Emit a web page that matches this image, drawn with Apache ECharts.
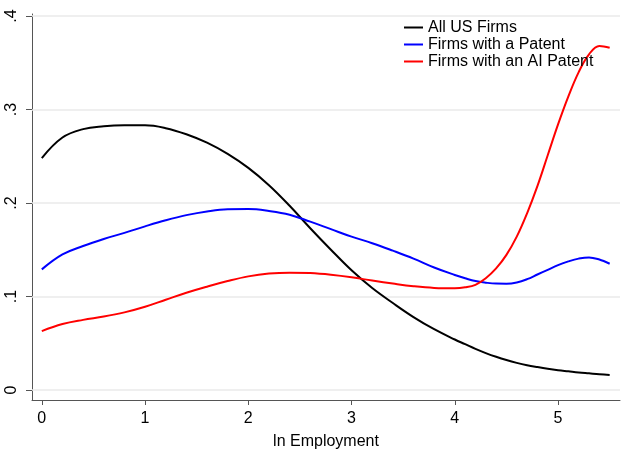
<!DOCTYPE html>
<html>
<head>
<meta charset="utf-8">
<script src="https://cdn.jsdelivr.net/npm/echarts@6/dist/echarts.min.js"></script>
<style>
html,body{margin:0;padding:0;background:#fff;}
#chart{width:621px;height:454px;}
</style>
</head>
<body>
<div id="chart"></div>
<script>
const xValues = [0, 0.2, 0.4, 0.6, 0.8, 1.0, 1.2, 1.4, 1.6, 1.8, 2.0, 2.2, 2.4, 2.6, 2.8, 3.0, 3.2, 3.4, 3.6, 3.8, 4.0, 4.1, 4.2, 4.3, 4.4, 4.5, 4.6, 4.7, 4.8, 4.9, 5.0, 5.1, 5.2, 5.3, 5.4, 5.5];
const allUSFirms = [0.248, 0.270, 0.279, 0.282, 0.283, 0.283, 0.280, 0.2735, 0.2645, 0.2525, 0.2375, 0.219, 0.197, 0.173, 0.150, 0.128, 0.109, 0.093, 0.078, 0.065, 0.054, 0.049, 0.044, 0.0395, 0.0355, 0.032, 0.029, 0.0265, 0.0245, 0.0227, 0.0212, 0.020, 0.0188, 0.0178, 0.0168, 0.016];
const firmsWithPatent = [0.129, 0.145, 0.154, 0.1615, 0.168, 0.175, 0.1815, 0.187, 0.191, 0.1933, 0.1935, 0.1915, 0.1875, 0.180, 0.172, 0.164, 0.157, 0.149, 0.1405, 0.131, 0.123, 0.1195, 0.1165, 0.1148, 0.1138, 0.1137, 0.115, 0.1185, 0.1235, 0.1285, 0.1335, 0.1375, 0.1405, 0.1418, 0.1395, 0.135];
const firmsWithAIPatent = [0.063, 0.0705, 0.075, 0.0785, 0.083, 0.089, 0.0965, 0.104, 0.1105, 0.1165, 0.1215, 0.1245, 0.1255, 0.125, 0.1232, 0.1205, 0.117, 0.1138, 0.111, 0.1092, 0.1088, 0.1098, 0.1125, 0.1195, 0.130, 0.1445, 0.164, 0.189, 0.218, 0.251, 0.284, 0.314, 0.340, 0.359, 0.368, 0.366];
const seriesNames = ['All US Firms', 'Firms with a Patent', 'Firms with an AI Patent'];
const xTicks = [0, 1, 2, 3, 4, 5];
const yTicks = [0, 0.1, 0.2, 0.3, 0.4];
const xTitle = 'ln Employment';

const font = 'Liberation Sans, Arial, Helvetica, sans-serif';
const pair = (ys) => xValues.map((x, i) => [x, ys[i]]);
const colors = ['#000000', '#0000ff', '#ff0000'];
const datasets = [allUSFirms, firmsWithPatent, firmsWithAIPatent];

const chart = echarts.init(document.getElementById('chart'), null, {renderer: 'canvas'});
const series = [{
  type: 'line', name: '_grid', data: [], silent: true, legendHoverLink: false, z: 1,
  markLine: {
    silent: true, symbol: 'none', animation: false, z: 1,
    label: {show: false},
    lineStyle: {color: '#eaeaea', width: 1.5, type: 'solid'},
    data: yTicks.map(v => ({yAxis: v}))
  }
}].concat(datasets.map((d, i) => ({
  type: 'line', name: seriesNames[i], data: pair(d), smooth: 0.4,
  symbol: 'none', showSymbol: false, z: 3,
  lineStyle: {color: colors[i], width: 2},
  itemStyle: {color: colors[i]}
})));

chart.setOption({
  animation: false,
  backgroundColor: '#ffffff',
  grid: {left: 32, right: 1, top: 14, bottom: 54, containLabel: false, outerBoundsMode: 'none'},
  legend: {
    data: seriesNames.map(n => ({name: n, icon: 'rect'})),
    orient: 'vertical',
    left: 404, top: 19, padding: 0,
    itemWidth: 19, itemHeight: 2, itemGap: 0,
    textStyle: {fontFamily: font, fontSize: 16, color: '#000', lineHeight: 17},
    selectedMode: false
  },
  xAxis: {
    type: 'value', min: -0.095, max: 5.6,
    name: xTitle, nameLocation: 'middle', nameGap: 34,
    nameTextStyle: {fontFamily: font, fontSize: 16, color: '#000'},
    axisLine: {show: true, onZero: false, lineStyle: {color: '#555', width: 1}},
    axisTick: {show: true, customValues: xTicks, length: 5, lineStyle: {color: '#555'}},
    axisLabel: {customValues: xTicks, fontFamily: font, fontSize: 16, color: '#000', margin: 11},
    splitLine: {show: false}
  },
  yAxis: {
    type: 'value', min: -0.0107, max: 0.4021,
    axisLine: {show: true, onZero: false, lineStyle: {color: '#555', width: 1}},
    axisTick: {show: true, customValues: yTicks, length: 6, lineStyle: {color: '#555'}},
    axisLabel: {
      customValues: yTicks, rotate: 90, fontFamily: font, fontSize: 16, color: '#000', margin: 12,
      formatter: v => (v === 0 ? '0' : String(Math.round(v * 10) / 10).replace(/^0/, ''))
    },
    splitLine: {show: false}
  },
  series: series
});
</script>
</body>
</html>
